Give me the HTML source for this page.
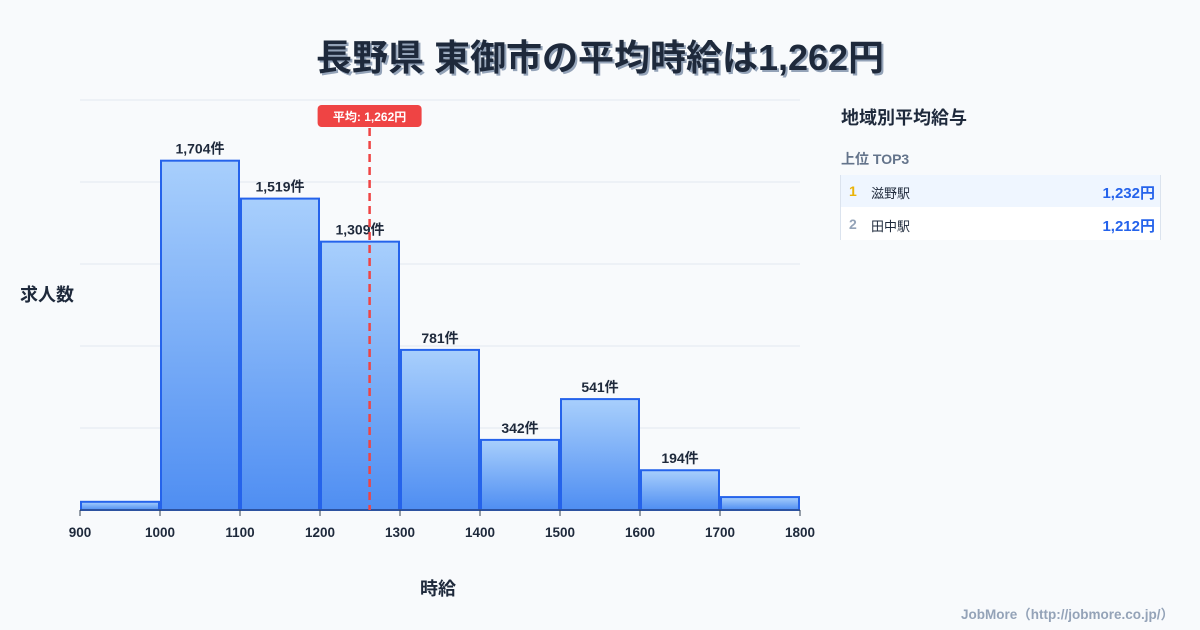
<!DOCTYPE html>
<html><head><meta charset="utf-8"><style>
body{margin:0;width:1200px;height:630px;background:#f8fafc;font-family:"Liberation Sans","Noto Sans CJK JP",sans-serif;position:relative;overflow:hidden;color:#1e293b}
.t{position:absolute;margin:0}
</style></head><body>
<h1 class="t" style="left:0;width:1200px;top:29px;text-align:center;font-size:36px;font-weight:bold;color:#1e293b;text-shadow:2px 2px 0 #94a3b8">長野県 東御市の平均時給は1,262円</h1>
<svg id="c" width="1200" height="630" style="position:absolute;left:0;top:0">
<defs><linearGradient id="g" x1="0" y1="0" x2="0" y2="1"><stop offset="0" stop-color="#a8cffc"/><stop offset="1" stop-color="#4f8ef2"/></linearGradient></defs>
</svg>
<div class="t" style="left:20px;top:281px;font-size:18px;font-weight:bold">求人数</div>
<div class="t" style="left:420px;top:575px;font-size:18px;font-weight:bold">時給</div>
<div class="t" style="left:841px;top:104px;font-size:18px;font-weight:bold">地域別平均給与</div>
<div class="t" style="left:841px;top:149px;font-size:14px;font-weight:bold;color:#64748b">上位 TOP3</div>
<div class="t" style="left:840px;top:175px;width:319px;border-left:1px solid #dbe3ee;border-right:1px solid #dbe3ee;font-size:13px">
 <div style="height:32px;background:#eff6ff;position:relative"><span style="position:absolute;left:8px;top:8px;color:#eab308;font-weight:bold;font-size:14px">1</span><span style="position:absolute;left:30px;top:8px">滋野駅</span><span style="position:absolute;right:5px;top:7px;color:#2563eb;font-weight:bold;font-size:15px">1,232円</span></div>
 <div style="height:33px;background:#fff;position:relative"><span style="position:absolute;left:8px;top:9px;color:#94a3b8;font-weight:bold;font-size:14px">2</span><span style="position:absolute;left:30px;top:9px">田中駅</span><span style="position:absolute;right:5px;top:8px;color:#2563eb;font-weight:bold;font-size:15px">1,212円</span></div>
</div>
<div class="t" style="right:26px;top:603px;font-size:13.5px;font-weight:bold;color:#94a3b8">JobMore（http://jobmore.co.jp/）</div>
<script>
const binStarts=[900,1000,1100,1200,1300,1400,1500,1600,1700];
const counts=[40,1704,1519,1309,781,342,541,194,63];
const labels=["","1,704件","1,519件","1,309件","781件","342件","541件","194件",""];
const xTicks=[900,1000,1100,1200,1300,1400,1500,1600,1700,1800];
const yGrid=[0,400,800,1200,1600,2000];
const avgValue=1262;
const ns="http://www.w3.org/2000/svg",svg=document.getElementById('c');
const X=v=>80+(v-900)*0.8, Y=v=>510-v*0.205;
function mk(t,a,p){const e=document.createElementNS(ns,t);for(const k in a)e.setAttribute(k,a[k]);(p||svg).appendChild(e);return e;}
yGrid.forEach(v=>{const l=mk('line',{x1:80,x2:800,y1:Y(v),y2:Y(v),stroke:'#e2e8f0','stroke-width':1});

});
binStarts.forEach((b,i)=>{const x0=X(b)+1,x1=X(b+100)-1,y=Y(counts[i]);
const r=mk('rect',{x:x0,y:y,width:x1-x0,height:510-y,fill:'url(#g)',stroke:'#2563eb','stroke-width':2});


if(labels[i]){const t=mk('text',{x:(x0+x1)/2,y:y-7,'text-anchor':'middle','font-size':14,'font-weight':'bold',fill:'#1e293b'});t.textContent=labels[i];

}});
mk('line',{x1:80,x2:800,y1:510,y2:510,stroke:'#334155','stroke-width':1});
xTicks.forEach(v=>{mk('line',{x1:X(v),x2:X(v),y1:510,y2:516,stroke:'#334155'});
const t=mk('text',{x:X(v),y:537,'text-anchor':'middle','font-size':13.5,'font-weight':'bold',fill:'#1e293b'});t.textContent=v;

});
const ax=X(avgValue);
const al=mk('line',{x1:ax,x2:ax,y1:128,y2:510,stroke:'#ef4444','stroke-width':2.5,'stroke-dasharray':'8,5'});


const bg=mk('rect',{x:ax-52,y:105,width:104,height:22,rx:4,fill:'#ef4444'});


const at=mk('text',{x:ax,y:121,'text-anchor':'middle','font-size':12,'font-weight':'bold',fill:'#fff'});at.textContent='平均: 1,262円';


</script>
</body></html>
